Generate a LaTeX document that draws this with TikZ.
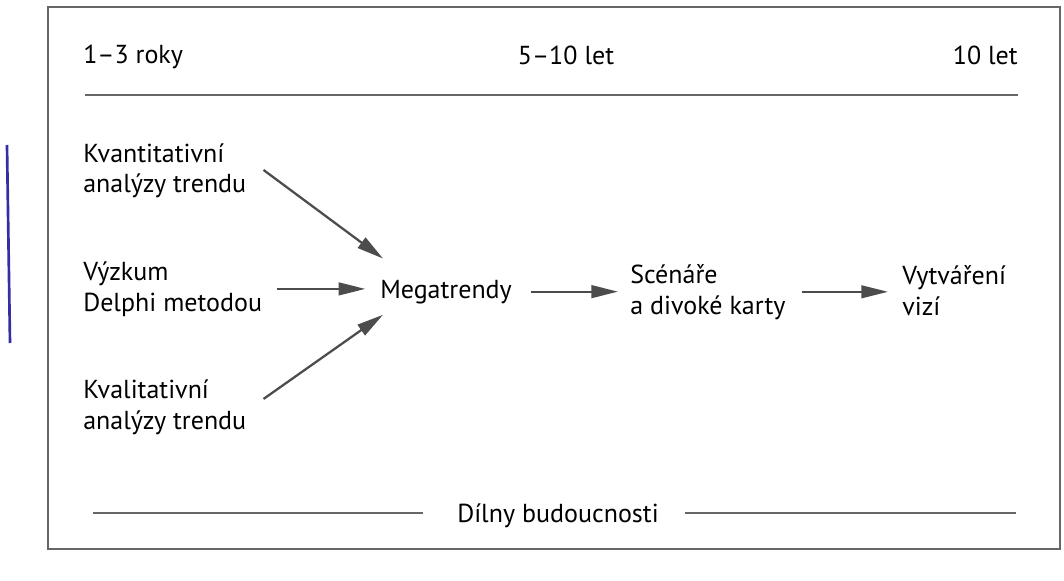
\documentclass[tikz,border=0pt]{standalone}
\usepackage{fontspec}
\setmainfont{PT Sans}
\usetikzlibrary{arrows.meta,positioning}
\definecolor{penblue}{RGB}{52,46,165}

\begin{document}
\begin{tikzpicture}[
        x=0.75pt, y=-0.75pt,
        txt/.style={inner sep=0pt, anchor=base west, align=left,
            font=\fontsize{19.5}{23}\selectfont},
        arr/.style={-{Triangle[length=20pt, width=9.5pt]}, line width=1.7pt,
            draw=black!70},
        rule/.style={draw=black!60, line width=0.8pt}
    ]
        \useasboundingbox (0,0) rectangle (1064,581);
        \draw[draw=black!60, line width=1pt] (48,7) rectangle (1060,549);
        \draw[draw=penblue, line width=2pt] (7,145) -- (10,343);

        % time axis
        \node[txt] (short) at (83,64) {1–3 roky};
        \node[txt, anchor=base] (mid) at (566,65) {5–10 let};
        \node[txt, anchor=base east] (long) at (1018,65) {10 let};
        \draw[rule] (85,95) -- (1018,95);

        % methods (base = last line)
        \node[txt] (kvant) at (83,193) {Kvantitativní\\analýzy trendu};
        \node[txt] (delphi) at (83,311) {Výzkum\\Delphi metodou};
        \node[txt] (kval) at (83,429) {Kvalitativní\\analýzy trendu};
        \node[txt] (mega) at (380,298) {Megatrendy};
        \node[txt] (scen) at (630,314) {Scénáře\\a divoké karty};
        \node[txt] (vize) at (902,315) {Vytváření\\vizí};

        \draw[arr] ([shift={(17,-1)}]kvant.east) -- ([shift={(3,-21)}]mega.north west);
        \draw[arr, shorten <=11pt, shorten >=11pt] (delphi.east) -- (delphi.east -| mega.west);
        \draw[arr] ([shift={(17,-8)}]kval.east) -- ([shift={(3,11)}]mega.south west);
        \draw[arr, shorten <=14pt, shorten >=9pt] (mega.east) -- (mega.east -| scen.west);
        \draw[arr, shorten <=12.5pt, shorten >=10.5pt] (scen.east) -- (scen.east -| vize.west);

        % workshops
        \node[txt] (dilny) at (457,522) {Dílny budoucnosti};
        \draw[rule] (93,513) -- (423,513);
        \draw[rule] (685,513) -- (1016,513);
    \end{tikzpicture}
\end{document}
